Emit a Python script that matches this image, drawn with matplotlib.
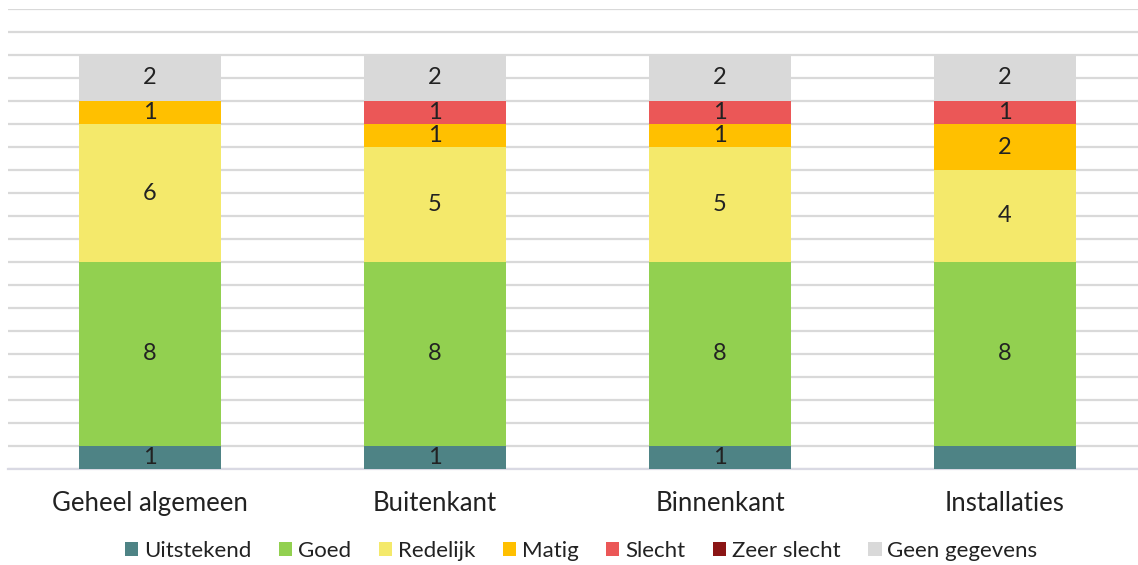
import matplotlib.pyplot as plt
import numpy as np

categories = ['Geheel algemeen', 'Buitenkant', 'Binnenkant', 'Installaties']
series = ['Uitstekend', 'Goed', 'Redelijk', 'Matig', 'Slecht', 'Zeer slecht', 'Geen gegevens']
uitstekend = [1, 1, 1, 1]
goed = [8, 8, 8, 8]
redelijk = [6, 5, 5, 4]
matig = [1, 1, 1, 2]
slecht = [0, 1, 1, 1]
zeer_slecht = [0, 0, 0, 0]
geen = [2, 2, 2, 2]
# data label not shown in the original for Installaties / Uitstekend
hidden_labels = [(3, 0)]

colors = ['#4e8385', '#92d050', '#f4e96b', '#ffc000', '#eb5757', '#8b1515', '#d9d9d9']

plt.rcParams['font.family'] = ['Lato', 'DejaVu Sans']

fig = plt.figure(figsize=(11.38, 5.65), dpi=100)
ax = fig.add_axes([7.5 / 1138, 96 / 565, 1140 / 1138, 460 / 565])

x = np.arange(len(categories))
bottom = np.zeros(len(categories))
data = [uitstekend, goed, redelijk, matig, slecht, zeer_slecht, geen]
for si, (name, vals, col) in enumerate(zip(series, data, colors)):
    vals = np.array(vals, dtype=float)
    ax.bar(x, vals, 0.5, bottom=bottom, color=col, label=name, zorder=3)
    for ci, v in enumerate(vals):
        if v > 0 and (ci, si) not in hidden_labels:
            ax.text(x[ci], bottom[ci] + v / 2, f'{int(v)}', ha='center', va='center',
                    fontsize=17, color='#222222', zorder=4)
    bottom += vals

ax.set_xlim(-0.5, 3.5)
ax.set_ylim(0, 20)
ax.set_yticks(np.arange(0, 21, 1))
ax.yaxis.grid(True, color='#d9d9d9', linewidth=1.6, zorder=0)
ax.set_axisbelow(True)
ax.tick_params(axis='y', left=False, labelleft=False)
ax.tick_params(axis='x', bottom=False, labelsize=18.5, pad=12, labelcolor='#222222')
ax.set_xticks(x)
ax.set_xticklabels(categories)
for s in ['top', 'right', 'left']:
    ax.spines[s].set_visible(False)
ax.spines['bottom'].set_color('#d9d9e3')
ax.spines['bottom'].set_linewidth(1.6)

fig.legend(loc='center', bbox_to_anchor=(581 / 1138, 1 - 551 / 565), ncol=7, frameon=False,
           fontsize=16, handlelength=0.6, handleheight=0.6, handletextpad=0.25,
           columnspacing=1.25, labelcolor='#222222')

fig.savefig('out.png', dpi=100)
